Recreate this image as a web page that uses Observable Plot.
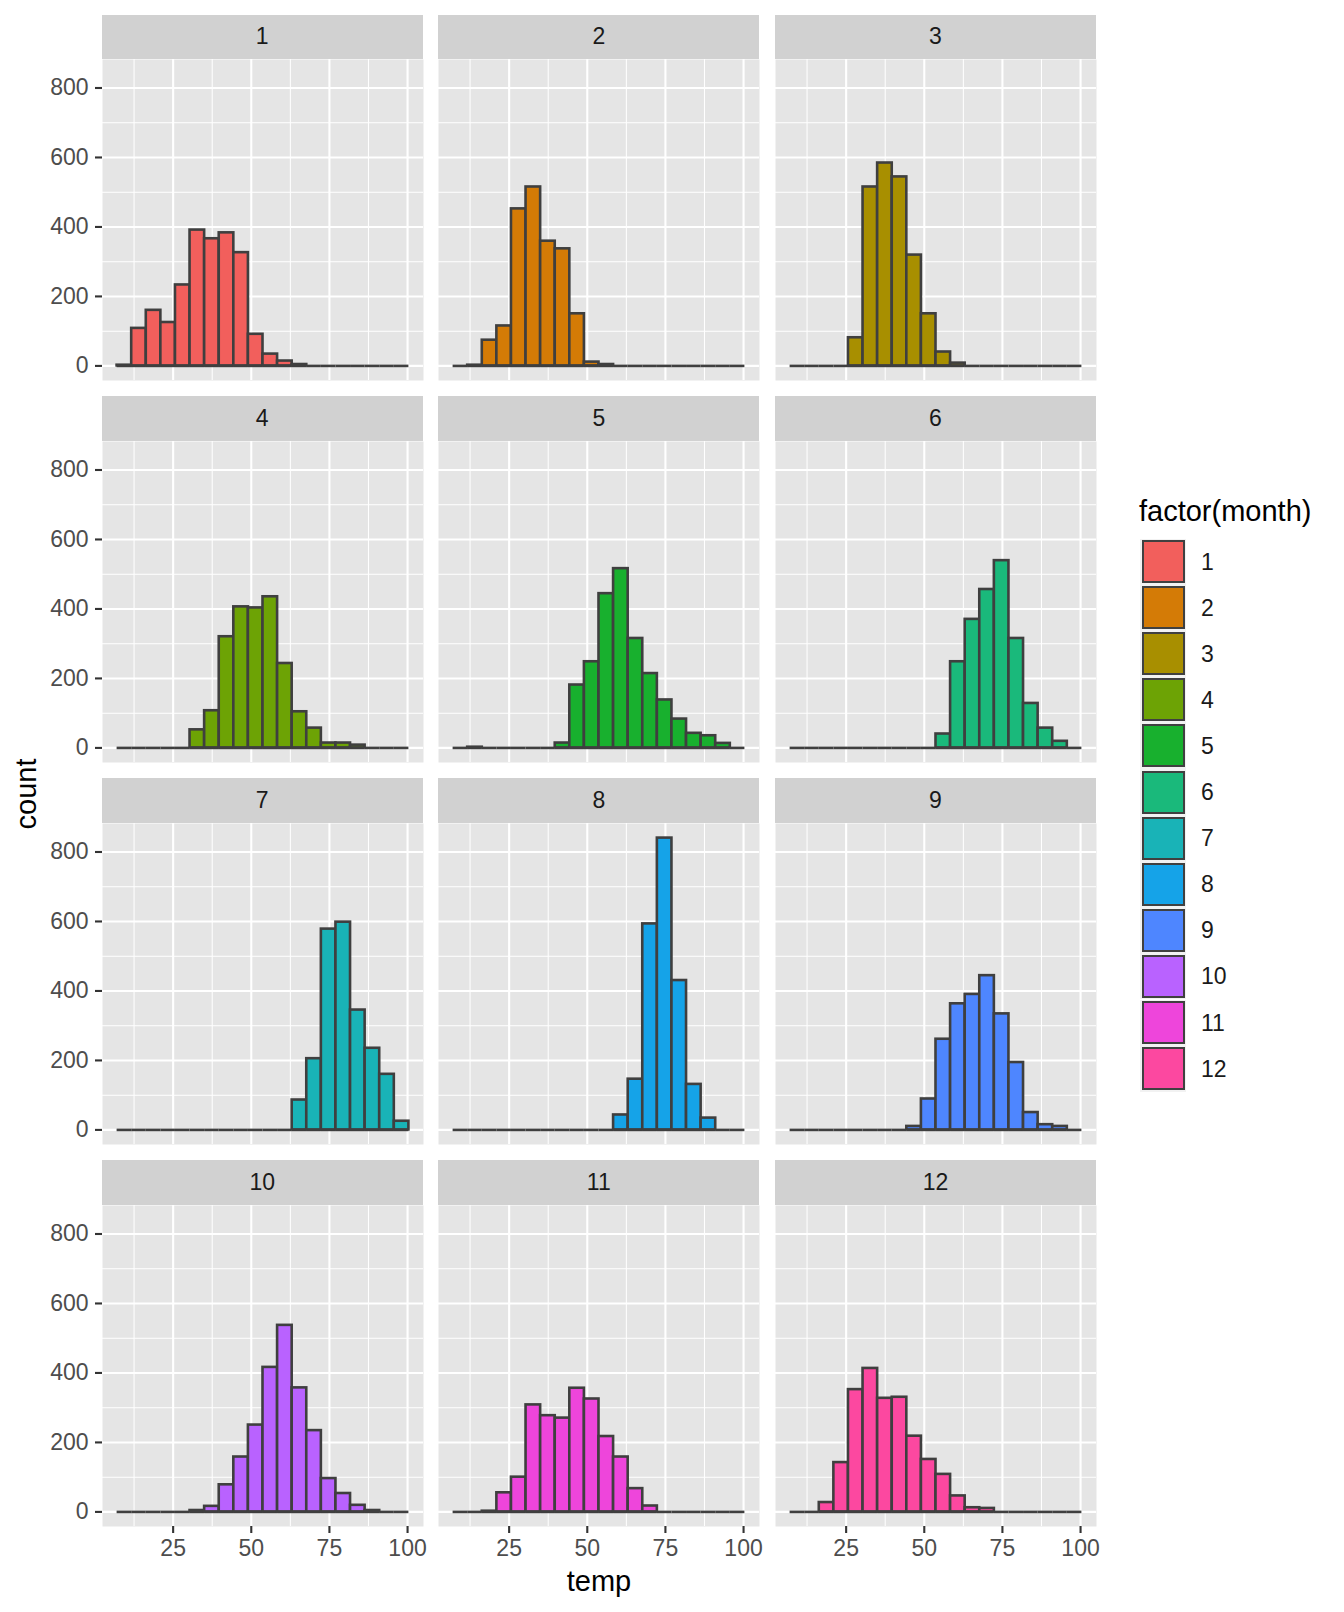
<!DOCTYPE html>
<html><head><meta charset="utf-8">
<script src="https://cdn.jsdelivr.net/npm/d3@7"></script>
<script src="https://cdn.jsdelivr.net/npm/@observablehq/plot@0.6"></script>
<style>
body{margin:0;background:#fff;}
#root{position:relative;width:1344px;height:1612px;font-family:"Liberation Sans",Arial,Helvetica,sans-serif;overflow:hidden;background:#fff}
.strip{position:absolute;background:#D1D1D1;color:#1A1A1A;font-size:23px;display:flex;align-items:center;justify-content:center}
.panel{position:absolute}
.title{position:absolute;color:#000;font-size:29px;white-space:nowrap}
.lkey{position:absolute;background:#F2F2F2}
.lkey div{position:absolute;left:1.5px;top:1.5px;right:1.5px;bottom:1.5px;box-sizing:border-box;border:2.6px solid #404040}
.llab{position:absolute;font-size:23px;color:#1A1A1A;line-height:1}
</style></head><body><div id="root"></div><script>
// ---- data ----
const months = [1,2,3,4,5,6,7,8,9,10,11,12];
const monthColors = ["#F25F5C","#D47B06","#A88F00","#6DA305","#18B02E","#1AB97B","#19B3B7","#15A3E8","#4E86FF","#B962FF","#EE45DB","#FC48A0"];
const binStart = 7.07;   // left edge of first temp bin
const binWidth = 4.668;  // temp bin width (20 bins)
const counts1  = [2,108,160,125,233,391,366,383,326,91,34,14,4,0,0,0,0,0,0,0];
const counts2  = [0,2,74,115,452,515,359,337,150,11,4,0,0,0,0,0,0,0,0,0];
const counts3  = [0,0,0,0,81,515,584,544,319,150,40,8,0,0,0,0,0,0,0,0];
const counts4  = [0,0,0,0,0,52,107,320,406,403,435,243,104,57,14,14,8,0,0,0];
const counts5  = [0,2,0,0,0,0,0,14,181,248,444,516,315,214,138,83,42,35,13,0];
const counts6  = [0,0,0,0,0,0,0,0,0,0,40,248,370,456,539,315,128,57,19,0];
const counts7  = [0,0,0,0,0,0,0,0,0,0,0,0,86,205,578,598,345,235,160,25];
const counts8  = [0,0,0,0,0,0,0,0,0,0,0,43,146,593,840,430,131,34,0,0];
const counts9  = [0,0,0,0,0,0,0,0,10,89,261,363,390,444,334,194,50,15,10,0];
const counts10 = [0,0,0,0,0,4,16,78,158,250,416,537,357,234,96,53,19,4,0,0];
const counts11 = [0,0,2,55,100,308,277,270,356,325,217,158,67,17,0,0,0,0,0,0];
const counts12 = [0,0,27,142,352,413,327,330,218,151,108,46,12,10,0,0,0,0,0,0];
const xTicks = [25,50,75,100];
const xMinorTicks = [12.5,37.5,62.5,87.5];
const yTicks = [0,200,400,600,800];
const yMinorTicks = [100,300,500,700];

const allCounts = [counts1,counts2,counts3,counts4,counts5,counts6,counts7,counts8,counts9,counts10,counts11,counts12];
const table = [];
months.forEach((m,i)=>allCounts[i].forEach((c,b)=>table.push({month:m, x0:binStart+b*binWidth, x1:binStart+(b+1)*binWidth, count:c})));

// ---- layout ----
const root = document.getElementById("root");
const panelLefts = [101.7, 438.3, 775];
const panelTops = [59.3, 441, 822.7, 1205];
const PW = 321, PH = 321, STRIP = 44.8;
const OUTLINE = "#3F3F3F";
const FONT = '"Liberation Sans",Arial,Helvetica,sans-serif';
const xDomain = [2.4, 105.1];
const yDomain = [-42, 882];

months.forEach((m,i)=>{
  const row = Math.floor(i/3), col = i%3;
  const isLeft = col===0, isBottom = row===3;
  const ml = isLeft ? 102 : 0, mb = isBottom ? 50 : 0;
  const rows = table.filter(d=>d.month===m);
  const color = monthColors[i];
  const marks = [
    Plot.frame({fill:"#E5E5E5", stroke:"none"}),
    Plot.ruleX(xMinorTicks, {stroke:"#fff", strokeWidth:1.05}),
    Plot.ruleY(yMinorTicks, {stroke:"#fff", strokeWidth:1.05}),
    Plot.ruleX(xTicks, {stroke:"#fff", strokeWidth:2.1}),
    Plot.ruleY(yTicks, {stroke:"#fff", strokeWidth:2.1}),
    Plot.ruleY(rows, {y:0, x1:"x0", x2:"x1", stroke:OUTLINE, strokeWidth:2.6}),
    Plot.rect(rows.filter(d=>d.count>0), {x1:"x0", x2:"x1", y1:0, y2:"count", fill:color, stroke:OUTLINE, strokeWidth:2.6})
  ];
  if (isLeft) marks.push(Plot.axisY({ticks:yTicks, tickSize:7, tickPadding:7, fontSize:23, stroke:"#333333", strokeWidth:2.1, fill:"#4D4D4D", label:null}));
  if (isBottom) marks.push(Plot.axisX({ticks:xTicks, tickSize:7, tickPadding:6, fontSize:23, stroke:"#333333", strokeWidth:2.1, fill:"#4D4D4D", label:null}));
  const chart = Plot.plot({
    width: ml+PW, height: PH+mb,
    marginLeft: ml, marginRight: 0, marginTop: 0, marginBottom: mb,
    x: {domain:xDomain, axis: isBottom ? undefined : null},
    y: {domain:yDomain, axis: isLeft ? undefined : null},
    style: {fontFamily: FONT, fontSize:"23px", background:"transparent", overflow:"visible"},
    marks
  });
  chart.classList.add("panel");
  chart.style.left = (panelLefts[col]-ml)+"px";
  chart.style.top = panelTops[row]+"px";
  root.appendChild(chart);
  const strip = document.createElement("div");
  strip.className = "strip";
  strip.style.left = panelLefts[col]+"px";
  strip.style.top = (panelTops[row]-STRIP)+"px";
  strip.style.width = PW+"px";
  strip.style.height = STRIP+"px";
  strip.textContent = String(m);
  root.appendChild(strip);
});

// axis titles
const yt = document.createElement("div");
yt.className = "title"; yt.textContent = "count";
yt.style.left = "26px"; yt.style.top = "793.5px";
yt.style.transform = "translate(-50%,-50%) rotate(-90deg)";
root.appendChild(yt);
const xt = document.createElement("div");
xt.className = "title"; xt.textContent = "temp";
xt.style.left = "599px"; xt.style.top = "1581px";
xt.style.transform = "translate(-50%,-50%)";
root.appendChild(xt);

// legend
const lt = document.createElement("div");
lt.className = "title"; lt.textContent = "factor(month)";
lt.style.left = "1139px"; lt.style.top = "511px"; lt.style.transform = "translateY(-50%)";
root.appendChild(lt);
months.forEach((m,i)=>{
  const k = document.createElement("div");
  k.className = "lkey";
  k.style.left = "1140px"; k.style.top = (538.5+i*46.1)+"px";
  k.style.width = "46px"; k.style.height = "46px";
  const inner = document.createElement("div");
  inner.style.background = monthColors[i];
  k.appendChild(inner);
  root.appendChild(k);
  const l = document.createElement("div");
  l.className = "llab"; l.textContent = String(m);
  l.style.left = "1201px"; l.style.top = (561.5+i*46.1)+"px"; l.style.transform = "translateY(-50%)";
  root.appendChild(l);
});
</script></body></html>
